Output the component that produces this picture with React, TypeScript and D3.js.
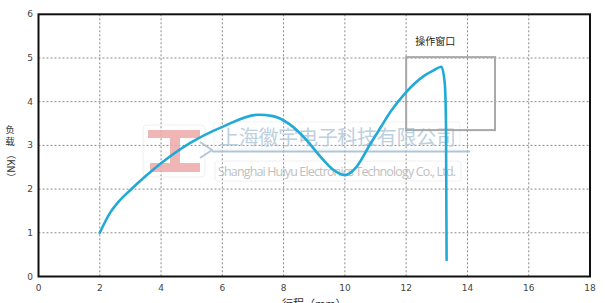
import React, { useEffect, useRef } from "react";
import * as d3 from "d3";

const strokeX = [2, 2.33, 2.6, 3, 3.5, 4, 4.94, 6.02, 7.16, 7.65, 8.2, 8.75, 9.18, 9.61, 10.0, 10.38, 10.82, 11.2, 11.5, 12.0, 12.56, 12.88, 13.15, 13.26, 13.3, 13.32];
const loadY = [1.0, 1.45, 1.7, 1.98, 2.3, 2.59, 3.05, 3.43, 3.7, 3.67, 3.48, 3.12, 2.76, 2.45, 2.32, 2.51, 3.02, 3.45, 3.78, 4.22, 4.58, 4.71, 4.8, 4.42, 3.5, 0.38];
const xTicks = [0, 2, 4, 6, 8, 10, 12, 14, 16, 18];
const yTicks = [0, 1, 2, 3, 4, 5, 6];
const windowBox = { x0: 12, x1: 14.9, y0: 3.35, y1: 5.02 };
const windowLabel = "操作窗口";
const yTitleChars = ["负", "载"];
const yTitleUnit = "（KN）";
const xTitle = "行程（mm）";
const wmCn = "上海徽宇电子科技有限公司";
const wmEn = "Shanghai Huiyu Electronics Technology Co., Ltd.";

export default function App() {
  const ref = useRef<SVGSVGElement>(null);
  useEffect(() => {
    const svg = d3.select(ref.current);
    svg.selectAll("*").remove();
    const L = 38.5, R = 590, T = 14.3, B = 276.5;
    const x = d3.scaleLinear().domain([0, 18]).range([L, R]);
    const y = d3.scaleLinear().domain([0, 6]).range([B, T]);
    const font = "'Noto Sans CJK SC', 'Noto Sans', sans-serif";

    svg.append("rect").attr("width", 605).attr("height", 303).attr("fill", "#fff");

    const g = svg.append("g");
    xTicks.slice(1, -1).forEach(t => {
      g.append("line").attr("x1", x(t)).attr("x2", x(t)).attr("y1", T).attr("y2", B)
        .attr("stroke", "#8a8a8a").attr("stroke-width", 1).attr("stroke-dasharray", "2,2");
    });
    yTicks.slice(1, -1).forEach(t => {
      g.append("line").attr("x1", L).attr("x2", R).attr("y1", y(t)).attr("y2", y(t))
        .attr("stroke", "#8a8a8a").attr("stroke-width", 1).attr("stroke-dasharray", "2,2");
    });

    // watermark
    const wm = svg.append("g").attr("opacity", 0.85);
    wm.append("rect").attr("x", 143).attr("y", 125).attr("width", 62).attr("height", 52).attr("rx", 4)
      .attr("fill", "none").attr("stroke", "#eee").attr("stroke-width", 1);
    wm.append("rect").attr("x", 148).attr("y", 130).attr("width", 52).attr("height", 8).attr("fill", "#eeaaaa");
    wm.append("rect").attr("x", 170).attr("y", 137).attr("width", 10).attr("height", 28).attr("fill", "#eeaaaa");
    wm.append("rect").attr("x", 150).attr("y", 163).attr("width", 50).attr("height", 9).attr("fill", "#eeaaaa");
    wm.append("path").attr("d", "M200,142 L212,150 L200,158").attr("fill", "none").attr("stroke", "#a9bfcf").attr("stroke-width", 2);
    wm.append("rect").attr("x", 214).attr("y", 122).attr("width", 246).attr("height", 27).attr("rx", 3)
      .attr("fill", "none").attr("stroke", "#eef2f5").attr("stroke-width", 1);
    wm.append("text").attr("x", 219).attr("y", 145).attr("font-size", 20).attr("font-family", font)
      .attr("fill", "#b2c8d8").attr("textLength", 237).text(wmCn);
    wm.append("line").attr("x1", 212).attr("x2", 470).attr("y1", 151.5).attr("y2", 151.5)
      .attr("stroke", "#a3bccf").attr("stroke-width", 2);
    wm.append("rect").attr("x", 215).attr("y", 161).attr("width", 246).attr("height", 20).attr("rx", 3)
      .attr("fill", "none").attr("stroke", "#eeeeee").attr("stroke-width", 1);
    wm.append("text").attr("x", 218).attr("y", 176).attr("font-size", 12.5).attr("font-family", "'Open Sans', sans-serif")
      .attr("fill", "#b5b5b5").attr("textLength", 238).text(wmEn);

    // operation window
    svg.append("rect").attr("x", x(windowBox.x0)).attr("y", y(windowBox.y1))
      .attr("width", x(windowBox.x1) - x(windowBox.x0)).attr("height", y(windowBox.y0) - y(windowBox.y1))
      .attr("fill", "none").attr("stroke", "#a8a8a8").attr("stroke-width", 2);
    svg.append("text").attr("x", x(12.95)).attr("y", 45).attr("text-anchor", "middle")
      .attr("font-size", 10).attr("font-family", font).attr("fill", "#222").text(windowLabel);

    // curve
    const pts = strokeX.map((v, i) => [v, loadY[i]] as [number, number]);
    const line = d3.line<[number, number]>().x(d => x(d[0])).y(d => y(d[1])).curve(d3.curveMonotoneX);
    svg.append("path").attr("d", line(pts)).attr("fill", "none").attr("stroke", "#22aad6")
      .attr("stroke-width", 2.6).attr("stroke-linecap", "round").attr("stroke-linejoin", "round");

    // frame
    svg.append("rect").attr("x", L).attr("y", T).attr("width", R - L).attr("height", B - T)
      .attr("fill", "none").attr("stroke", "#111").attr("stroke-width", 2);

    xTicks.forEach(t => {
      svg.append("text").attr("x", x(t)).attr("y", 291).attr("text-anchor", "middle")
        .attr("font-size", 9).attr("font-family", "'DejaVu Sans', sans-serif").attr("fill", "#444").text(t);
    });
    yTicks.forEach(t => {
      svg.append("text").attr("x", 30).attr("y", y(t) + 3).attr("text-anchor", "middle")
        .attr("font-size", 9).attr("font-family", "'DejaVu Sans', sans-serif").attr("fill", "#444").text(t);
    });

    yTitleChars.forEach((c, i) => {
      svg.append("text").attr("x", 10).attr("y", 133 + i * 12).attr("text-anchor", "middle")
        .attr("font-size", 9.5).attr("font-family", font).attr("fill", "#333").text(c);
    });
    svg.append("text").attr("transform", "translate(6.5,166) rotate(90)").attr("text-anchor", "middle")
      .attr("font-size", 10).attr("font-family", font).attr("fill", "#333").text(yTitleUnit);

    svg.append("text").attr("x", x(9)).attr("y", 308).attr("text-anchor", "middle")
      .attr("font-size", 11).attr("font-family", font).attr("fill", "#333").text(xTitle);
  }, []);
  return (
    <svg ref={ref} width={605} height={303} style={{ position: "absolute", left: 0, top: 0 }} />
  );
}
